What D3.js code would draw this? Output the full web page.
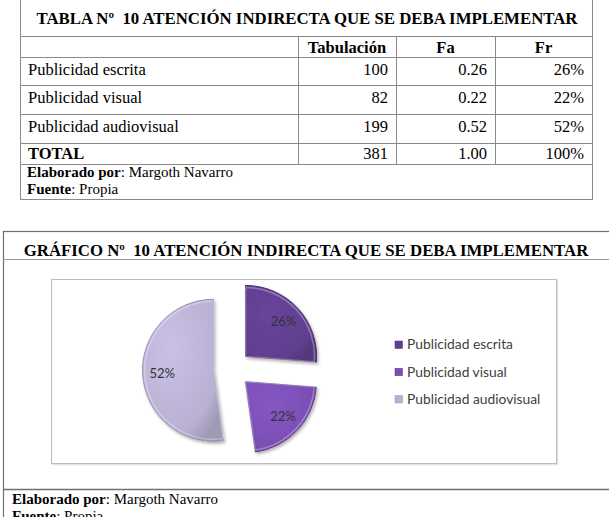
<!DOCTYPE html>
<html>
<head>
<meta charset="utf-8">
<script src="https://cdn.jsdelivr.net/npm/d3@7"></script>
<style>
  body { margin: 0; background: #fff; }
  svg text { white-space: pre; }
  .serif { font-family: "Liberation Serif", "Times New Roman", serif; fill: #000; }
  .sans { font-family: Lato, "Open Sans", sans-serif; fill: #404040; }
</style>
</head>
<body>
<svg id="page" width="609" height="517"></svg>
<script>
// datos de la tabla / grafico
let categorias = ["Publicidad escrita", "Publicidad visual", "Publicidad audiovisual"],
    tabulacion = [100, 82, 199],
    fa = ["0.26", "0.22", "0.52"],
    fr = ["26%", "22%", "52%"],
    totales = ["381", "1.00", "100%"],
    encabezados = ["Tabulación", "Fa", "Fr"],
    colores = ["#5f3f8e", "#7a4fb3", "#b9b0d2"],
    bordes = ["#4a2f72", "#613b94", "#9a91b3"];

// sin d3-selection-multi: attrs() minimo
d3.selection.prototype.attrs = function(o) {
  for (let k in o) this.attr(k, o[k]);
  return this;
};

let svg = d3.select("#page");

function tabla() {
  let cols = [20, 298, 396, 495, 592],
      rows = [-1, 36, 57, 85, 114, 143, 164, 199];
  let g = svg.append("g");
  let line = "#8a8a8a";

  // borde exterior + lineas horizontales
  g.append("rect").attrs({x: cols[0] + 0.5, y: rows[0] + 0.5, width: cols[4] - cols[0], height: rows[7] - rows[0],
    fill: "none", stroke: line});
  g.selectAll("line.h").data(rows.slice(1, 7)).enter().append("line")
    .attrs({x1: cols[0], x2: cols[4], y1: d => d + 0.5, y2: d => d + 0.5, stroke: line});
  // verticales solo entre cabecera y total
  g.selectAll("line.v").data(cols.slice(1, 4)).enter().append("line")
    .attrs({x1: d => d + 0.5, x2: d => d + 0.5, y1: rows[1], y2: rows[6], stroke: line});

  g.append("text").attr("class", "serif")
    .attrs({x: 307, y: 24, "text-anchor": "middle", "font-size": 16.8, "font-weight": "bold"})
    .text("TABLA Nº  10 ATENCIÓN INDIRECTA QUE SE DEBA IMPLEMENTAR");

  g.selectAll("text.head").data(encabezados).enter().append("text")
    .attr("class", "serif head")
    .attrs({x: (d, i) => (cols[i + 1] + cols[i + 2]) / 2, y: 52.5, "text-anchor": "middle",
      "font-size": 16.5, "font-weight": "bold"})
    .text(d => d);

  let filas = categorias.map((c, i) => [c, String(tabulacion[i]), fa[i], fr[i]]);
  filas.push(["TOTAL"].concat(totales));
  filas.forEach((f, r) => {
    let top = rows[r + 2],
        y = r == 3 ? 159 : top + 17.5;
    g.selectAll("text.r" + r).data(f).enter().append("text")
      .attr("class", "serif r" + r)
      .attrs({x: (d, i) => i == 0 ? 28 : cols[i + 1] - 8, y: y,
        "text-anchor": (d, i) => i == 0 ? "start" : "end", "font-size": 16.5,
        "font-weight": (d, i) => (r == 3 && i == 0) ? "bold" : "normal"})
      .text(d => d);
  });

  pie_footer(g, 27, 177);
}

function pie_footer(g, x, y) {
  let t1 = g.append("text").attr("class", "serif").attrs({x: x, y: y, "font-size": 15});
  t1.append("tspan").attr("font-weight", "bold").text("Elaborado por");
  t1.append("tspan").text(": Margoth Navarro");
  let t2 = g.append("text").attr("class", "serif").attrs({x: x, y: y + 16.5, "font-size": 15});
  t2.append("tspan").attr("font-weight", "bold").text("Fuente");
  t2.append("tspan").text(": Propia");
}

function grafico() {
  let g = svg.append("g");
  let line = "#6f6f6f";
  g.append("rect").attrs({x: 3.5, y: 231.5, width: 640, height: 320, fill: "none", stroke: line, "stroke-width": 1.2});
  g.append("line").attrs({x1: 3, x2: 609, y1: 259.5, y2: 259.5, stroke: "#999"});
  g.append("line").attrs({x1: 3, x2: 609, y1: 489.5, y2: 489.5, stroke: line, "stroke-width": 1.5});

  g.append("text").attr("class", "serif")
    .attrs({x: 306, y: 256, "text-anchor": "middle", "font-size": 16.8, "font-weight": "bold"})
    .text("GRÁFICO Nº  10 ATENCIÓN INDIRECTA QUE SE DEBA IMPLEMENTAR");

  // area del grafico
  g.append("rect").attrs({x: 52.5, y: 280.5, width: 505, height: 184, fill: "none", stroke: "#e4e4e4", "stroke-width": 1.5});
  g.append("rect").attrs({x: 51.5, y: 279.5, width: 505, height: 184, fill: "#fff", stroke: "#bdbdbd"});

  let defs = svg.append("defs");
  let shadow = defs.append("filter").attrs({id: "sombra", x: "-20%", y: "-20%", width: "150%", height: "150%"});
  shadow.append("feDropShadow").attrs({dx: 1.5, dy: 2, stdDeviation: 1.5, "flood-color": "#000", "flood-opacity": 0.3});

  colores.forEach((c, i) => {
    let grad = defs.append("radialGradient").attrs({id: "grad" + i, cx: "35%", cy: "35%", r: "75%"});
    grad.append("stop").attrs({offset: "0%", "stop-color": d3.color(c).brighter(0.25)});
    grad.append("stop").attrs({offset: "80%", "stop-color": c});
    grad.append("stop").attrs({offset: "100%", "stop-color": d3.color(c).darker(0.4)});
  });

  let radius = 71, explode = 18.5, cx = 232, cy = 369;
  let pie = d3.pie().sort(null).value(d => d)(tabulacion);
  let arc = d3.arc().innerRadius(0).outerRadius(radius),
      bevel = d3.arc().innerRadius(0).outerRadius(radius - 2),
      labelArc = d3.arc().innerRadius(0).outerRadius(radius * 1.45);

  let slices = g.append("g").attr("transform", `translate(${cx}, ${cy})`)
    .selectAll("g").data(pie).enter().append("g")
    .attr("transform", d => {
      let a = (d.startAngle + d.endAngle) / 2;
      return `translate(${explode * Math.sin(a)}, ${-explode * Math.cos(a)})`;
    });

  slices.append("path")
    .attrs({d: arc, fill: (d, i) => `url(#grad${i})`, stroke: (d, i) => bordes[i], "stroke-width": 1,
      filter: "url(#sombra)"});
  slices.append("path")
    .attrs({d: bevel, fill: "none", stroke: "#fff", "stroke-opacity": 0.3, "stroke-width": 1.5});

  slices.append("text").attr("class", "sans")
    .attrs({transform: d => `translate(${labelArc.centroid(d)})`, "text-anchor": "middle", dy: "0.35em",
      "font-size": 13})
    .style("fill", "#333")
    .text((d, i) => fr[i]);

  // leyenda
  let y = d3.scalePoint().domain(categorias).range([344.5, 399]);
  let ley = g.selectAll("g.ley").data(categorias).enter().append("g")
    .attr("transform", d => `translate(395, ${y(d)})`);
  ley.append("rect").attrs({x: 0, y: -3.5, width: 7.5, height: 7.5, fill: (d, i) => colores[i],
    stroke: (d, i) => bordes[i], "stroke-width": 0.5});
  ley.append("text").attr("class", "sans")
    .attrs({x: 12, dy: "0.36em", "font-size": 13.8})
    .text(d => d);

  pie_footer(g, 12, 504);
}

tabla();
grafico();
</script>
</body>
</html>
